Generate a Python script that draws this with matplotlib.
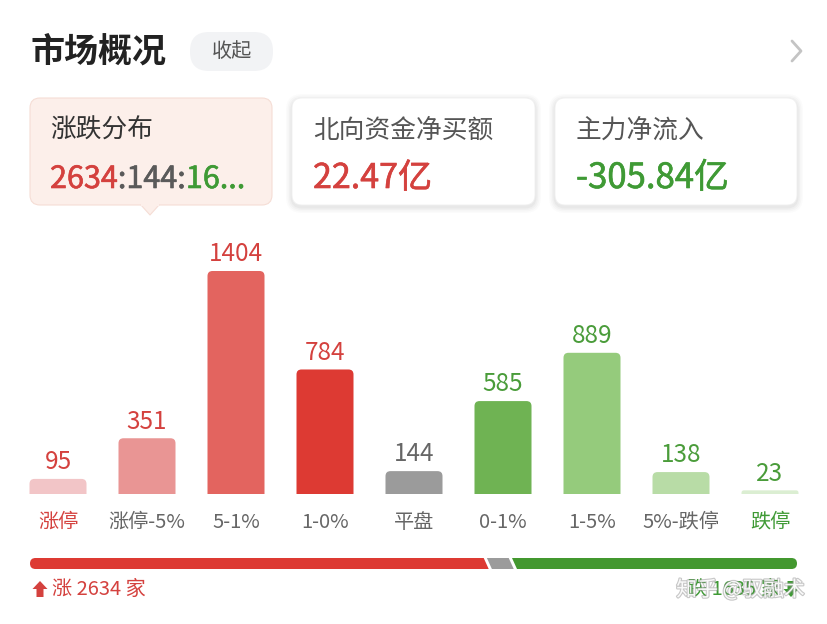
import matplotlib
matplotlib.use("Agg")
import matplotlib.pyplot as plt
from matplotlib.patches import FancyBboxPatch, Polygon
import matplotlib.patheffects as pe

plt.rcParams['font.family'] = ['Noto Sans CJK SC', 'DejaVu Sans']

# ---------------- data ----------------
categories = ["涨停", "涨停-5%", "5-1%", "1-0%", "平盘", "0-1%", "1-5%", "5%-跌停", "跌停"]
counts = [95, 351, 1404, 784, 144, 585, 889, 138, 23]
bar_colors = ["#f2c5c7", "#e99594", "#e3645f", "#dd3a33", "#9b9b9b",
              "#6fb353", "#95cb7c", "#b8dca6", "#dbeed2"]
value_colors = ["#d4413e"] * 4 + ["#666666"] + ["#4a9c3a"] * 4
cat_colors = ["#d4413e"] + ["#666666"] * 7 + ["#3f9a35"]
up_total = 2634
flat_total = 144
down_total = 1635
north_flow = "22.47亿"
main_flow = "-305.84亿"

W, H = 828, 624
fig = plt.figure(figsize=(W / 100, H / 100), dpi=100)
fig.patch.set_facecolor("white")

# decoration axes in pixel coordinates
ax = fig.add_axes([0, 0, 1, 1])
ax.set_xlim(0, W)
ax.set_ylim(H, 0)
ax.axis("off")

# header
ax.text(31, 51, "市场概况", fontsize=24.5, fontweight="bold", color="#222222",
        ha="left", va="center")
ax.add_patch(FancyBboxPatch((190, 32), 83, 39, boxstyle="round,pad=0,rounding_size=19",
                            fc="#f2f3f5", ec="none"))
ax.text(231.5, 51.5, "收起", fontsize=14.5, color="#555555", ha="center", va="center")
ax.plot([792, 801, 792], [41, 51, 61], color="#c4c4c4", lw=2, solid_capstyle="round",
        solid_joinstyle="round")

# cards
def shadow(x, y, w, h):
    for i, a in enumerate([0.03, 0.025, 0.02, 0.015]):
        d = 1.5 + i * 1.5
        ax.add_patch(FancyBboxPatch((x - d, y - d + 2), w + 2 * d, h + 2 * d,
                                    boxstyle="round,pad=0,rounding_size=%g" % (10 + d),
                                    fc="black", ec="none", alpha=a))

# card 1 (selected)
ax.add_patch(FancyBboxPatch((30, 98), 242, 107, boxstyle="round,pad=0,rounding_size=10",
                            fc="#fcefea", ec="#f5ddd5", lw=0.8))
ax.add_patch(Polygon([[141, 204.5], [159, 204.5], [150, 215]], closed=True,
                     fc="#fcefea", ec="none"))
ax.plot([141, 150, 159], [205, 215, 205], color="#f5ddd5", lw=0.8)
ax.plot([141.8, 158.2], [204.6, 204.6], color="#fcefea", lw=1.6)

shadow(292, 98, 243, 107)
ax.add_patch(FancyBboxPatch((292, 98), 243, 107, boxstyle="round,pad=0,rounding_size=10",
                            fc="white", ec="#f0f0f0", lw=0.6))
shadow(555, 98, 242, 107)
ax.add_patch(FancyBboxPatch((555, 98), 242, 107, boxstyle="round,pad=0,rounding_size=10",
                            fc="white", ec="#f0f0f0", lw=0.6))

ax.text(50, 131, "涨跌分布", fontsize=18.5, color="#333333", ha="left", va="center")
ax.text(313, 131, "北向资金净买额", fontsize=18.5, color="#555555", ha="left", va="center")
ax.text(576, 131, "主力净流入", fontsize=18.5, color="#555555", ha="left", va="center")


def thick(col):
    return [pe.withStroke(linewidth=0.45, foreground=col)]


vfs = 22
t1 = ax.text(50, 188, str(up_total), fontsize=vfs, color="#d4413e",
             ha="left", va="baseline", path_effects=thick("#d4413e"))
t2 = ax.annotate(":%d:" % flat_total, xy=(1, 0), xycoords=t1, fontsize=vfs,
                 color="#5a5a5a", ha="left", va="bottom", path_effects=thick("#5a5a5a"))
t3 = ax.annotate(str(down_total)[:2] + "...", xy=(1, 0), xycoords=t2, fontsize=vfs,
                 color="#3f9a35", ha="left", va="bottom", path_effects=thick("#3f9a35"))
ax.text(313, 188, north_flow, fontsize=24.5, color="#d4413e",
        ha="left", va="baseline", path_effects=thick("#d4413e"))
ax.text(576, 188, main_flow, fontsize=25, color="#3f9a35",
        ha="left", va="baseline", path_effects=thick("#3f9a35"))

# category labels
for i, (c, col) in enumerate(zip(categories, cat_colors)):
    ax.text(58 + 89 * i, 522, c, fontsize=14.5, color=col, ha="center", va="center")

# bottom proportion bar
total = up_total + flat_total + down_total
x0, x1 = 30, 797
y0, y1 = 558, 569
bw = x1 - x0
b1 = x0 + bw * up_total / total
b2 = x0 + bw * (up_total + flat_total) / total
clip = FancyBboxPatch((x0, y0), bw, y1 - y0, boxstyle="round,pad=0,rounding_size=5.5",
                      fc="none", ec="none")
ax.add_patch(clip)
sl = 2.5
g = 1.6
segs = [
    ([[x0 - 10, y0], [b1 - sl - g, y0], [b1 + sl - g, y1], [x0 - 10, y1]], "#dd3a33"),
    ([[b1 - sl + g, y0], [b2 - sl - g, y0], [b2 + sl - g, y1], [b1 + sl + g, y1]], "#9b9b9b"),
    ([[b2 - sl + g, y0], [x1 + 10, y0], [x1 + 10, y1], [b2 + sl + g, y1]], "#43982f"),
]
for pts, col in segs:
    p = Polygon(pts, closed=True, fc=col, ec="none")
    ax.add_patch(p)
    p.set_clip_path(clip)

# up arrow + text
ax.add_patch(Polygon([[40, 581], [47.5, 589], [43.5, 589], [43.5, 597], [36.5, 597],
                      [36.5, 589], [32.5, 589]], closed=True, fc="#d4413e", ec="none"))
ax.text(52, 589, "涨 %d 家" % up_total, fontsize=14.5, color="#d4413e", ha="left",
        va="center")

# down text + arrow (right side)
ax.text(781, 589, "跌 %d 家" % down_total, fontsize=14.5, color="#3f9a35", ha="right",
        va="center")
ax.add_patch(Polygon([[791, 597], [798.5, 589], [794.5, 589], [794.5, 581], [787.5, 581],
                      [787.5, 589], [783.5, 589]], closed=True, fc="#3f9a35", ec="none"))
# watermark
ax.text(805, 590, "知乎 @驭融术", fontsize=15, color="white", ha="right", va="center",
        alpha=0.9,
        path_effects=[pe.withStroke(linewidth=1.6, foreground="#9a9a9a", alpha=0.55)])

# ---------------- bar chart ----------------
baseline_px = 494
top_px_for_max = 271
ymax = 1600
h_px = (baseline_px - top_px_for_max) * ymax / max(counts)
left_px = 58 - 44.5
width_px = 89 * 9
bax = fig.add_axes([left_px / W, (H - baseline_px) / H, width_px / W, h_px / H])
bax.set_xlim(-0.5, len(counts) - 0.5)
bax.set_ylim(0, ymax)
bax.axis("off")
bax.patch.set_alpha(0)

bar_w = 57 / 89
bars = bax.bar(range(len(counts)), counts, width=bar_w, color=bar_colors)
# replace with top-rounded bars
units_per_px_x = 1 / 89
units_per_px_y = ymax / h_px
r_px = 5
for b, col in zip(bars, bar_colors):
    x, y, w, h = b.get_x(), b.get_y(), b.get_width(), b.get_height()
    b.set_visible(False)
    r = min(r_px, h / units_per_px_y / 2 + 0.5) * units_per_px_x
    fb = FancyBboxPatch((x, y - 20 * units_per_px_y), w, h + 20 * units_per_px_y,
                        boxstyle="round,pad=0,rounding_size=%g" % r,
                        mutation_aspect=units_per_px_y / units_per_px_x,
                        fc=col, ec="none", clip_on=True)
    bax.add_patch(fb)
    fb.set_clip_box(bax.bbox)

for i, (v, col) in enumerate(zip(counts, value_colors)):
    bax.annotate(str(v), xy=(i, v), xytext=(0, 7), textcoords="offset points",
                 ha="center", va="baseline", fontsize=17.5, color=col,
                 annotation_clip=False)

fig.savefig("out.png", dpi=100, facecolor="white")
